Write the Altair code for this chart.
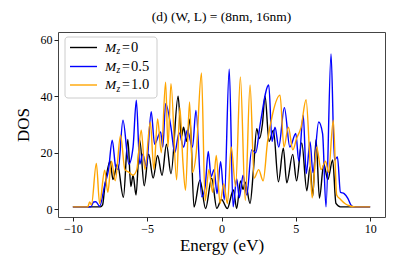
import altair as alt
import pandas as pd

# ---- data ----
x0 = [-10, -8.15, -8.0, -7.85, -7.5, -7.3, -7.0, -6.6, -6.3, -6.1, -5.95, -5.75, -5.5, -5.2, -4.9, -4.6, -4.3,
      -4.0, -3.7, -3.4, -2.92, -2.7, -2.55, -2.35, -2.12, -1.85, -1.45, -1.07, -0.66, -0.32, 0.0, 0.39, 0.8,
      1.02, 1.28, 1.45, 1.6, 1.92, 2.15, 2.37, 2.55, 2.75, 2.93, 3.2, 3.49, 3.83, 4.16, 4.39, 4.79, 5.05, 5.4,
      5.74, 5.96, 6.14, 6.36, 6.59, 6.88, 7.15, 7.48, 7.7, 8.0, 10]
y0 = [0.8, 0.8, 1.5, 8, 17, 10.5, 16, 4.2, 24.7, 8, 12, 5, 24.4, 8.3, 19.5, 11, 19,
      12, 23, 12.5, 40, 25.6, 29, 24, 32, 0.7, 10.3, 0.2, 11, 0.3, 3.4, 0.2, 6.8,
      0.2, 10, 7, 9.5, 2, 14, 28.5, 25, 30, 40, 24, 28, 9.7, 21.6, 9.3, 19.4, 10, 23.5,
      6.5, 15, 4.5, 24.6, 3.9, 16, 10.5, 17.4, 2, 0.8, 0.8]

x1 = [-10, -8.8, -8.6, -8.45, -8.2, -7.86, -7.6, -7.35, -7.12, -6.95, -6.63, -6.23, -5.95, -5.73, -5.5, -5.3,
      -5.05, -4.73, -4.5, -4.1, -3.95, -3.76, -3.4, -3.15, -2.85, -2.55, -2.3, -1.95, -1.72, -1.33, -1.1, -0.89,
      -0.7, -0.5, -0.3, -0.06, 0.19, 0.52, 0.78, 1.02, 1.2, 1.45, 1.7, 2.03, 2.3, 2.6, 3.18, 3.4, 3.6, 3.85,
      4.23, 4.6, 5.0, 5.2, 5.5, 5.7, 5.96, 6.15, 6.54, 6.8, 7.03, 7.37, 7.6, 7.8, 8.0, 8.25, 8.5, 8.7, 8.9, 10]
y1 = [0.8, 0.8, 2.5, 2.6, 1.0, 8.5, 14, 24.4, 15, 14, 31.5, 16, 22, 38.6, 16, 19.5,
      15, 34.5, 23, 27.4, 22, 37.4, 29, 20, 27, 22, 28, 22, 35, 4.4, 8, 20.4,
      11.5, 14, 5.5, 16.8, 3.3, 49.6, 0.8, 10.8, 4, 12, 5, 21, 20, 30, 44, 24, 29, 22,
      36, 22, 26.8, 17, 33.3, 12.6, 23.8, 13, 30.9, 26.8, 0.8, 55, 17.4, 18.5, 6, 5.5, 3.8, 1.5, 0.8, 0.8]

x2 = [-10, -9.0, -8.87, -8.75, -8.42, -8.2, -7.86, -7.65, -7.4, -7.15, -6.79, -6.5, -6.2, -5.95, -5.7, -5.4,
      -5.15, -4.79, -4.55, -4.3, -4.05, -3.76, -3.6, -3.4, -3.02, -2.8, -2.6, -2.42, -2.15, -1.95, -1.7, -1.35,
      -1.1, -0.85, -0.6, -0.35, -0.1, 0.15, 0.4, 0.65, 0.95, 1.27, 1.6, 1.92, 2.2, 2.5, 2.8, 3.1, 3.45, 3.94,
      4.2, 4.5, 4.8, 5.05, 5.35, 5.69, 5.95, 6.1, 6.4, 6.7, 7.0, 7.2, 7.52, 7.75, 8.0, 8.3, 8.6, 9.0, 10]
y2 = [0.8, 0.8, 2.5, 1.5, 16.2, 2, 13.8, 6, 17, 10, 26.2, 14, 13, 12, 14, 28,
      14, 30.9, 14, 32, 20, 45, 22, 44.5, 10.4, 36, 17, 6.7, 38, 13, 20, 48.3,
      3, 14, 6, 19, 2, 9, 2, 22, 8, 46.9, 3, 44, 11, 14, 10, 24, 34, 40.4,
      22, 29, 21, 25, 29, 38.8, 17, 4, 22, 14, 17, 13, 31.5, 5, 3.5, 2, 1.2, 0.8, 0.8]

series = ["Mz=0", "Mz=0.5", "Mz=1.0"]
colors = ["#000000", "#0000ff", "#ffa500"]
legend_main = ["M", "M", "M"]
legend_sub = ["z", "z", "z"]
legend_values = ["0", "0.5", "1.0"]
x_ticks = [-10, -5, 0, 5, 10]
y_ticks = [0, 20, 40, 60]

rows = []
for s, xs, ys in zip(series, [x0, x1, x2], [y0, y1, y2]):
    for i, (a, b) in enumerate(zip(xs, ys)):
        rows.append({"series": s, "E": a, "DOS": b, "order": i})
df = pd.DataFrame(rows)

FONT = "Liberation Serif"
W, H = 327, 185

lines = alt.Chart(df).mark_line(strokeWidth=1.4, interpolate="monotone").encode(
    x=alt.X("E:Q", scale=alt.Scale(domain=[-11, 11], nice=False, zero=False),
            axis=alt.Axis(values=x_ticks, title="Energy (eV)", grid=False)),
    y=alt.Y("DOS:Q", scale=alt.Scale(domain=[-2.8, 62.8], nice=False, zero=False),
            axis=alt.Axis(values=y_ticks, title="DOS", grid=False)),
    color=alt.Color("series:N", scale=alt.Scale(domain=series, range=colors), legend=None),
    order="order:Q",
    detail="series:N",
)

dummy = pd.DataFrame({"a": [0]})
box = alt.Chart(dummy).mark_rect(fill="white", fillOpacity=0.8, stroke="#cccccc",
                                 strokeWidth=1, cornerRadius=3).encode(
    x=alt.value(7), x2=alt.value(99), y=alt.value(5), y2=alt.value(66))

leg_layers = [box]
ys_leg = [15.5, 34.5, 53]
for c, yy, m, sub, val in zip(colors, ys_leg, legend_main, legend_sub, legend_values):
    leg_layers.append(alt.Chart(dummy).mark_rule(color=c, strokeWidth=1.4).encode(
        x=alt.value(12), x2=alt.value(39), y=alt.value(yy)))
    leg_layers.append(alt.Chart(dummy).mark_text(text=m, font=FONT, fontStyle="italic", fontSize=13.5,
                                                  align="left", baseline="middle", color="black").encode(
        x=alt.value(47), y=alt.value(yy)))
    leg_layers.append(alt.Chart(dummy).mark_text(text=sub, font=FONT, fontStyle="italic", fontSize=9.5,
                                                  align="left", baseline="middle", color="black").encode(
        x=alt.value(58.5), y=alt.value(yy + 3.5)))
    leg_layers.append(alt.Chart(dummy).mark_text(text="=", font=FONT, fontSize=14,
                                                  align="left", baseline="middle", color="black").encode(
        x=alt.value(64), y=alt.value(yy)))
    leg_layers.append(alt.Chart(dummy).mark_text(text=val, font=FONT, fontSize=14.5,
                                                  align="left", baseline="middle", color="black").encode(
        x=alt.value(73), y=alt.value(yy)))

chart = alt.layer(lines, *leg_layers).properties(
    width=W, height=H,
    title=alt.TitleParams("(d) (W, L) = (8nm, 16nm)", font=FONT, fontSize=13.5, fontWeight="normal",
                          color="black", offset=9),
    autosize=alt.AutoSizeParams(type="none"),
    padding={"left": 50, "top": 24, "right": 10, "bottom": 44},
).configure_view(stroke="#444444", strokeWidth=1).configure_axis(
    labelFont=FONT, labelFontSize=12, labelColor="black", titleFont=FONT, titleFontSize=17,
    titleFontWeight="normal", titleColor="black", domain=False, tickColor="#222222", tickSize=4,
    labelPadding=2,
).configure_axisX(titlePadding=3).configure_axisY(titlePadding=8)

chart.save("out.html", embed_options={"renderer": "svg", "actions": False})
